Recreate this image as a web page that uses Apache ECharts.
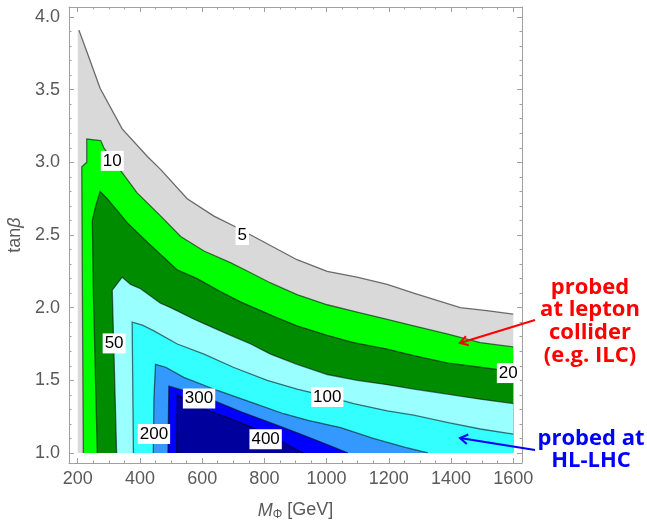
<!DOCTYPE html>
<html><head><meta charset="utf-8">
<script src="https://cdn.jsdelivr.net/npm/echarts@6/dist/echarts.min.js"></script>
<style>html,body{margin:0;padding:0;background:#fff}#c{width:647px;height:522px}</style>
</head><body><div id="c"></div>
<script>
// ---- data ----
const levelValues = [5, 10, 20, 50, 100, 200, 300, 400];
const levelColors = ['#d9d9d9', '#00ff00', '#008c00', '#99ffff', '#33ffff', '#3399ff', '#0000ff', '#00009c'];
const dataXMin = 200, dataXMax = 1600, dataYMin = 1.0;

const contour5 = [[204,3.91],[233,3.74],[272,3.51],[343,3.23],[424,3.04],[467,2.95],[552,2.75],[638,2.63],[713,2.55],[809,2.44],[905,2.33],[1002,2.25],[1098,2.21],[1195,2.16],[1280,2.10],[1430,2.00],[1515,1.98],[1600,1.955]];
const contour10 = [[218,1.0],[215,2.10],[213,2.97],[229,3.0],[229,3.16],[274,3.15],[284,3.10],[343,2.93],[391,2.79],[467,2.63],[531,2.49],[606,2.39],[691,2.31],[756,2.24],[820,2.17],[905,2.09],[1002,2.02],[1098,1.97],[1195,1.92],[1280,1.875],[1387,1.82],[1494,1.76],[1600,1.73]];
const contour20 = [[263,1.0],[250,2.13],[247,2.60],[258,2.70],[272,2.80],[295,2.75],[359,2.585],[424,2.45],[520,2.26],[584,2.20],[659,2.11],[723,2.04],[788,1.98],[830,1.94],[905,1.875],[1002,1.81],[1087,1.76],[1195,1.715],[1280,1.67],[1387,1.62],[1494,1.59],[1600,1.56]];
const contour50 = [[325,1.0],[315,1.81],[311,2.12],[343,2.21],[370,2.16],[402,2.13],[466,2.03],[499,2.0],[574,1.92],[606,1.89],[680,1.82],[756,1.75],[820,1.68],[905,1.61],[1002,1.54],[1098,1.50],[1195,1.47],[1280,1.44],[1387,1.405],[1494,1.37],[1600,1.34]];
const contour100 = [[379,1.0],[375,1.90],[408,1.88],[445,1.84],[520,1.75],[606,1.68],[700,1.59],[809,1.50],[905,1.44],[1002,1.39],[1087,1.34],[1195,1.29],[1280,1.26],[1387,1.21],[1494,1.165],[1600,1.13]];
const contour200 = [[443,1.0],[445,1.37],[450,1.61],[483,1.59],[541,1.52],[649,1.43],[756,1.35],[862,1.27],[940,1.225],[1045,1.175],[1150,1.10],[1250,1.04],[1325,1.0]];
const contour300 = [[490,1.0],[493,1.46],[540,1.43],[638,1.36],[723,1.285],[830,1.20],[916,1.13],[1000,1.06],[1068,1.0]];
const contour400 = [[518,1.0],[520,1.40],[595,1.31],[680,1.245],[756,1.18],[830,1.11],[884,1.045],[925,1.0]];
const contours = [contour5, contour10, contour20, contour50, contour100, contour200, contour300, contour400];

const contourLabels = [[729,2.50,'5'],[311,3.01,'10'],[1584,1.55,'20'],[317,1.754,'50'],[1002,1.386,'100'],[445,1.13,'200'],[590,1.375,'300'],[804,1.095,'400']];

const xTickLabels = [200, 400, 600, 800, 1000, 1200, 1400, 1600];
const yTickLabels = [1.0, 1.5, 2.0, 2.5, 3.0, 3.5, 4.0];
const X_MIN = 172, X_MAX = 1628, Y_MIN = 0.931, Y_MAX = 4.069;

// ---- build ----
function polygonFor(c) {
  const pts = c.slice();
  const first = c[0], last = c[c.length - 1];
  if (last[1] > dataYMin + 1e-9) pts.push([dataXMax, dataYMin]);
  if (first[1] > dataYMin + 1e-9) { pts.push([dataXMin, dataYMin]); pts.push([dataXMin, first[1]]); }
  return pts;
}
const isTick = (v, list) => list.some(t => Math.abs(t - v) < 1e-6);

const frameColor = '#a0a0a0';
const labelColor = '#5a5a5a';
const font = 'Liberation Sans';

const chart = echarts.init(document.getElementById('c'), null, {renderer: 'canvas'});

function mkX(pos, major, withLabel) {
  const ax = {
    type: 'value', position: pos, min: X_MIN, max: X_MAX, splitNumber: major ? 7 : 29,
    axisLine: {show: major, lineStyle: {color: frameColor, width: 1}},
    axisTick: {show: true, inside: true, length: major ? 5 : 2.5, lineStyle: {color: frameColor}},
    axisLabel: {show: withLabel, color: labelColor, fontSize: 18, fontFamily: font, margin: 7,
      formatter: v => isTick(v, xTickLabels) ? String(Math.round(v)) : ''},
    splitLine: {show: false}
  };
  if (withLabel) {
    ax.name = '{i|M}{s|Φ} [GeV]';
    ax.nameLocation = 'middle';
    ax.nameGap = 37;
    ax.nameTextStyle = {color: labelColor, fontSize: 18, fontFamily: font,
      rich: {i: {fontStyle: 'italic', fontSize: 18, color: labelColor, fontFamily: font},
             s: {fontSize: 12, color: labelColor, fontFamily: font, padding: [9, 0, 0, 0]}}};
  }
  return ax;
}
function mkY(pos, major, withLabel) {
  const ax = {
    type: 'value', position: pos, min: Y_MIN, max: Y_MAX, splitNumber: major ? 6 : 31,
    axisLine: {show: major, lineStyle: {color: frameColor, width: 1}},
    axisTick: {show: true, inside: true, length: major ? 5 : 2.5, lineStyle: {color: frameColor}},
    axisLabel: {show: withLabel, color: labelColor, fontSize: 18, fontFamily: font, margin: 9,
      formatter: v => isTick(v, yTickLabels) ? v.toFixed(1) : ''},
    splitLine: {show: false}
  };
  if (withLabel) {
    ax.name = '{n|tan}{b|β}';
    ax.nameLocation = 'middle';
    ax.nameGap = 39;
    ax.nameRotate = 90;
    ax.nameTextStyle = {color: labelColor, fontSize: 18, fontFamily: font,
      rich: {n: {fontSize: 18, color: labelColor, fontFamily: font},
             b: {fontSize: 18, fontStyle: 'italic', color: labelColor, fontFamily: font}}};
  }
  return ax;
}

function arrow(tip, tail, color) {
  const dx = tail[0] - tip[0], dy = tail[1] - tip[1];
  const L = Math.hypot(dx, dy), ux = dx / L, uy = dy / L;
  const a = 32 * Math.PI / 180, len = 9;
  const r = (s) => [tip[0] + len * (Math.cos(s * a) * ux - Math.sin(s * a) * uy),
                    tip[1] + len * (Math.sin(s * a) * ux + Math.cos(s * a) * uy)];
  return [
    {type: 'polyline', shape: {points: [tip, tail]}, style: {stroke: color, lineWidth: 2, fill: null}, z: 100},
    {type: 'polyline', shape: {points: [r(1), tip, r(-1)]}, style: {stroke: color, lineWidth: 2, fill: null}, z: 100}
  ];
}

const option = {
  animation: false,
  backgroundColor: '#fff',
  grid: {left: 69, right: 125, top: 7, bottom: 59, containLabel: false, outerBoundsMode: 'none'},
  xAxis: [mkX('bottom', true, true), mkX('top', true, false), mkX('bottom', false, false), mkX('top', false, false)],
  yAxis: [mkY('left', true, true), mkY('right', true, false), mkY('left', false, false), mkY('right', false, false)],
  series: [
    {
      type: 'custom', name: 'fills', xAxisIndex: 0, yAxisIndex: 0,
      data: levelValues.map((v, i) => [i]),
      renderItem: (params, api) => {
        const i = params.dataIndex;
        const pts = polygonFor(contours[i]).map(p => api.coord(p));
        return {type: 'polygon', shape: {points: pts}, style: {fill: levelColors[i], stroke: null}};
      },
      z: 2
    },
    {
      type: 'custom', name: 'lines', xAxisIndex: 0, yAxisIndex: 0,
      data: levelValues.map((v, i) => [i]),
      renderItem: (params, api) => {
        const i = params.dataIndex;
        const pts = contours[i].map(p => api.coord(p));
        return {type: 'polyline', shape: {points: pts}, style: {stroke: 'rgba(0,0,0,0.55)', lineWidth: 1.3, fill: null}};
      },
      z: 3
    },
    {
      type: 'custom', name: 'labels', xAxisIndex: 0, yAxisIndex: 0,
      data: contourLabels.map(d => [d[0], d[1]]),
      renderItem: (params, api) => {
        const d = contourLabels[params.dataIndex];
        const p = api.coord([d[0], d[1]]);
        return {type: 'text', x: p[0], y: p[1], style: {text: d[2], fill: '#000',
          font: '17px "Liberation Sans"', align: 'center', verticalAlign: 'middle',
          backgroundColor: '#fff', padding: [2, 2, 1, 2]}};
      },
      z: 4
    }
  ],
  graphic: [
    {type: 'text', x: 590, y: 276, z: 100, style: {text: 'probed\nat lepton\ncollider\n(e.g. ILC)', fill: '#f00',
      font: 'bold 22px "Open Sans"', textAlign: 'center', lineHeight: 22.7}},
    {type: 'text', x: 591, y: 427, z: 100, style: {text: 'probed at\nHL-LHC', fill: '#0000ff',
      font: 'bold 22px "Open Sans"', textAlign: 'center', lineHeight: 22.7}},
    ...arrow([460, 343], [535, 320], '#f00'),
    ...arrow([460, 438], [535, 450], '#0000ff')
  ]
};
chart.setOption(option);
</script></body></html>
